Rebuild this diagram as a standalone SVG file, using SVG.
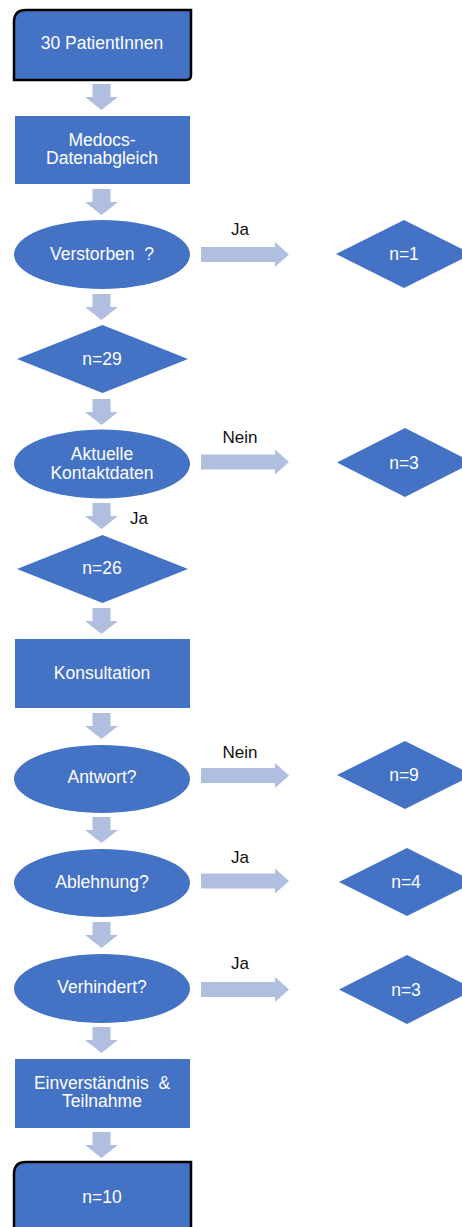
<svg xmlns="http://www.w3.org/2000/svg" xmlns:xlink="http://www.w3.org/1999/xlink" width="462" height="1227" viewBox="0 0 462 1227">
<style>
.n{fill:#4472C4}
.term{fill:#4472C4;stroke:#000;stroke-width:2.5}
.arr{fill:#B0BEE0}
.t{font-family:"Liberation Sans",Arial,sans-serif;font-size:17.5px;fill:#fff;text-anchor:middle}
.l{font-family:"Liberation Sans",Arial,sans-serif;font-size:17px;fill:#111;text-anchor:middle}
</style>
<defs>
<path id="da" d="M-9,0 H9 V13 H16.5 L0,26 L-16.5,13 H-9 Z"/>
<path id="ra" d="M0,-7.5 H74 V-12.5 L88,0 L74,12.5 V7.5 H0 Z"/>
</defs>
<rect width="462" height="1227" fill="#fff"/>
<g id="connectors" class="arr">
<use xlink:href="#da" x="101.5" y="84"/>
<use xlink:href="#da" x="101.5" y="189"/>
<use xlink:href="#da" x="101.5" y="294"/>
<use xlink:href="#da" x="101.5" y="399"/>
<use xlink:href="#da" x="101.5" y="503"/>
<use xlink:href="#da" x="101.5" y="608"/>
<use xlink:href="#da" x="101.5" y="713"/>
<use xlink:href="#da" x="101.5" y="817"/>
<use xlink:href="#da" x="101.5" y="922"/>
<use xlink:href="#da" x="101.5" y="1027"/>
<use xlink:href="#da" x="101.5" y="1132"/>
<use xlink:href="#ra" x="201" y="254.5"/>
<use xlink:href="#ra" x="201" y="462"/>
<use xlink:href="#ra" x="201" y="775.5"/>
<use xlink:href="#ra" x="201" y="881"/>
<use xlink:href="#ra" x="201" y="989.5"/>
</g>
<g id="labels">
<text class="l" x="240" y="235">Ja</text>
<text class="l" x="240" y="443">Nein</text>
<text class="l" x="139" y="524">Ja</text>
<text class="l" x="240" y="758">Nein</text>
<text class="l" x="240" y="863">Ja</text>
<text class="l" x="240" y="969">Ja</text>
</g>
<g id="start">
<path class="term" d="M26,10 H191 V75 Q191,80 186,80 H14 V22 Q14,10 26,10 Z"/>
<text class="t" x="102" y="49">30 PatientInnen</text>
</g>
<g id="medocs">
<rect class="n" x="15" y="116" width="175" height="68"/>
<text class="t" x="102" y="146">Medocs-</text>
<text class="t" x="102" y="164">Datenabgleich</text>
</g>
<g id="verstorben">
<ellipse class="n" cx="102" cy="254.5" rx="88" ry="34.5"/>
<text class="t" x="102" y="260" xml:space="preserve">Verstorben  ?</text>
</g>
<g id="n1">
<polygon class="n" points="336,254 404,220 472,254 404,288"/>
<text class="t" x="404" y="260">n=1</text>
</g>
<g id="n29">
<polygon class="n" points="17,359 102.5,325 188,359 102.5,393"/>
<text class="t" x="102" y="365">n=29</text>
</g>
<g id="kontakt">
<ellipse class="n" cx="102" cy="464" rx="88" ry="34.5"/>
<text class="t" x="102" y="460">Aktuelle</text>
<text class="t" x="102" y="479">Kontaktdaten</text>
</g>
<g id="n3a">
<polygon class="n" points="337,462.5 405,428 473,462.5 405,497"/>
<text class="t" x="404" y="468.5">n=3</text>
</g>
<g id="n26">
<polygon class="n" points="17,569 102.5,535 188,569 102.5,603"/>
<text class="t" x="102" y="574">n=26</text>
</g>
<g id="konsultation">
<rect class="n" x="15" y="639" width="175" height="69"/>
<text class="t" x="102" y="679">Konsultation</text>
</g>
<g id="antwort">
<ellipse class="n" cx="102" cy="779" rx="88" ry="34"/>
<text class="t" x="102" y="783">Antwort?</text>
</g>
<g id="n9">
<polygon class="n" points="337,775 405,741 473,775 405,809"/>
<text class="t" x="404" y="781">n=9</text>
</g>
<g id="ablehnung">
<ellipse class="n" cx="102" cy="883" rx="88" ry="34"/>
<text class="t" x="102" y="888">Ablehnung?</text>
</g>
<g id="n4">
<polygon class="n" points="339,882 407,848 475,882 407,916"/>
<text class="t" x="406" y="888">n=4</text>
</g>
<g id="verhindert">
<ellipse class="n" cx="102" cy="988.5" rx="88" ry="34.5"/>
<text class="t" x="102" y="993">Verhindert?</text>
</g>
<g id="n3b">
<polygon class="n" points="339,989.5 407,955 475,989.5 407,1024"/>
<text class="t" x="406" y="995.5">n=3</text>
</g>
<g id="einverstaendnis">
<rect class="n" x="15" y="1059" width="175" height="69"/>
<text class="t" x="102" y="1089" xml:space="preserve">Einverständnis  &amp;</text>
<text class="t" x="102" y="1107">Teilnahme</text>
</g>
<g id="end">
<path class="term" d="M26,1162 H191 V1240 H14 V1174 Q14,1162 26,1162 Z"/>
<text class="t" x="102" y="1203">n=10</text>
</g>
</svg>
